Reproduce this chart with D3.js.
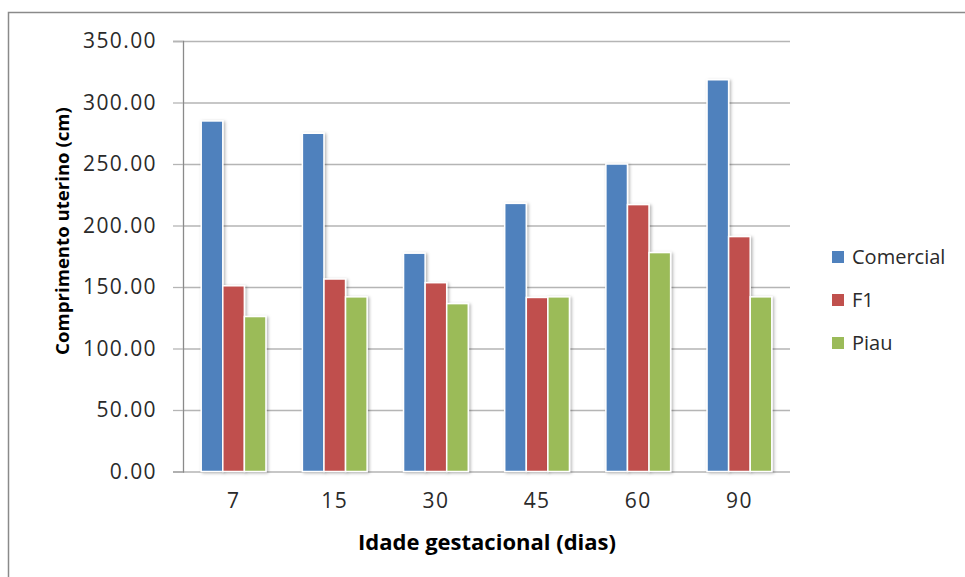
<!DOCTYPE html>
<html>
<head>
<meta charset="utf-8">
<script src="https://cdn.jsdelivr.net/npm/d3@7"></script>
<style>
  html, body { margin: 0; padding: 0; background: #fff; }
  svg { display: block; }
</style>
</head>
<body>
<svg id="chart" width="965" height="577"></svg>
<script>
const categories = ["7", "15", "30", "45", "60", "90"];
const seriesNames = ["Comercial", "F1", "Piau"];
const comercial = [285, 275, 177.5, 218, 250, 318.5];
const f1 = [151, 156.5, 153.5, 141.5, 217, 191];
const piau = [126, 142, 136.5, 142, 178, 142];
const yTicks = [0, 50, 100, 150, 200, 250, 300, 350];
const colors = ["#4F81BD", "#C0504D", "#9BBB59"];

(function () {
const seriesValues = [comercial, f1, piau];
const svg = d3.select("#chart");

const defs = svg.append("defs");
const f = defs.append("filter").attr("id", "shadow").attr("x", "-30%").attr("y", "-10%").attr("width", "160%").attr("height", "120%");
f.append("feDropShadow").attr("dx", 1.5).attr("dy", 1).attr("stdDeviation", 1.4).attr("flood-color", "#000").attr("flood-opacity", 0.3);

// outer frame
svg.append("rect").attr("x", 8.5).attr("y", 12.5).attr("width", 1000).attr("height", 700)
  .attr("fill", "none").attr("stroke", "#8a8a8a").attr("stroke-width", 1.5);

const mLeft = 183, mRight = 790, mTop = 41, mBottom = 471.5;

const y = d3.scaleLinear().domain([0, 350]).range([mBottom, mTop]);
const x0 = d3.scaleBand().domain(categories).range([mLeft, mRight]).paddingInner(0.36).paddingOuter(0.18);
const x1 = d3.scaleBand().domain(seriesNames).range([0, x0.bandwidth()]).padding(0);

// gridlines
const grid = svg.append("g").attr("transform", `translate(${mLeft},0)`)
  .call(d3.axisLeft(y).tickValues(yTicks).tickSize(-(mRight - mLeft)).tickFormat(""));
grid.select(".domain").remove();
grid.selectAll("line").attr("stroke", "#b5b5b5").attr("stroke-width", 1.3);

// y axis
const yAxis = svg.append("g").attr("transform", `translate(${mLeft},0)`)
  .call(d3.axisLeft(y).tickValues(yTicks).tickSize(10).tickPadding(16).tickFormat(d3.format(".2f")));
yAxis.select(".domain").attr("stroke", "#8a8a8a").attr("stroke-width", 1.3);
yAxis.selectAll("line").attr("stroke", "#b5b5b5").attr("stroke-width", 1.3);
yAxis.selectAll("text").attr("font-family", "Open Sans").attr("font-size", 21)
  .attr("letter-spacing", 1.4).attr("fill", "#2a2a2a");

// bars
const groups = svg.append("g").selectAll("g").data(categories).join("g")
  .attr("transform", d => `translate(${x0(d)},0)`);
groups.selectAll("rect").data((d, i) => seriesNames.map((s, k) => ({ s, v: seriesValues[k][i], k })))
  .join("rect")
  .attr("x", d => x1(d.s))
  .attr("y", d => y(d.v))
  .attr("width", x1.bandwidth())
  .attr("height", d => mBottom - y(d.v))
  .attr("fill", d => colors[d.k])
  .attr("stroke", "#fff").attr("stroke-width", 1.5)
  .attr("filter", "url(#shadow)");

// x axis labels
const xAxis = svg.append("g").attr("transform", `translate(0,${mBottom})`)
  .call(d3.axisBottom(x0).tickSize(0).tickPadding(22));
xAxis.select(".domain").remove();
xAxis.selectAll("text").attr("font-family", "Open Sans").attr("font-size", 21)
  .attr("letter-spacing", 1.4).attr("fill", "#2a2a2a");

// axis titles
svg.append("text").attr("x", 487).attr("y", 550).attr("text-anchor", "middle")
  .attr("font-family", "Open Sans").attr("font-weight", "bold").attr("font-size", 22)
  .attr("fill", "#000").text("Idade gestacional (dias)");
svg.append("text").attr("transform", "translate(69,231) rotate(-90)").attr("text-anchor", "middle")
  .attr("font-family", "Open Sans").attr("font-weight", "bold").attr("font-size", 18.6)
  .attr("fill", "#000").text("Comprimento uterino (cm)");

// legend
const legend = svg.append("g").selectAll("g").data(seriesNames).join("g")
  .attr("transform", (d, i) => `translate(832,${257 + i * 43})`);
legend.append("rect").attr("x", 0).attr("y", -6).attr("width", 12).attr("height", 12)
  .attr("fill", (d, i) => colors[i]);
legend.append("text").attr("x", 20).attr("y", 0).attr("dy", "0.35em")
  .attr("font-family", "Open Sans").attr("font-size", 20).attr("fill", "#2a2a2a").text(d => d);
})();
</script>
</body>
</html>
